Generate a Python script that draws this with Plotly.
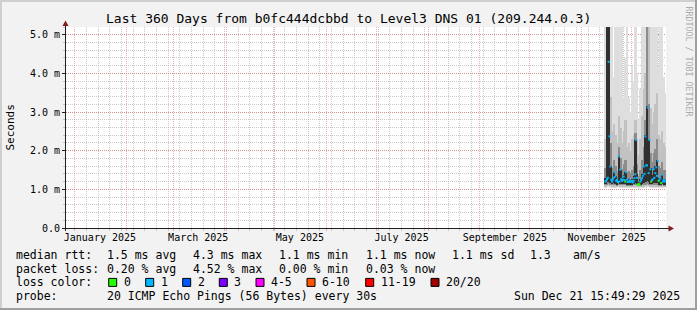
import plotly.graph_objects as go
import pandas as pd

# ---------------- data ----------------
title_text = "Last 360 Days from b0fc444dcbbd to Level3 DNS 01 (209.244.0.3)"
range_start = "2024-12-26 15:49:29"
range_end = "2025-12-21 15:49:29"

# daily smoke columns (ms), Nov 15 .. Dec 21 2025
smoke_days = pd.date_range("2025-11-15", periods=37, freq="D")
ping_min = [1.04,1.05,1.05,1.04,1.04,1.04,1.04,1.03,1.05,1.04,1.04,1.04,1.04,1.03,1.03,1.03,1.03,1.04,1.04,1.04,1.02,1.03,1.04,1.04,1.05,1.05,1.05,1.04,1.04,1.04,1.04,1.04,1.03,1.03,1.03,1.03,1.03]
ping_p15 = [1.07,1.08,1.09,1.08,1.07,1.07,1.07,1.06,1.08,1.07,1.07,1.07,1.07,1.06,1.06,1.06,1.06,1.07,1.07,1.07,1.05,1.06,1.07,1.07,1.08,1.09,1.08,1.07,1.07,1.07,1.07,1.07,1.06,1.06,1.06,1.06,1.06]
ping_p30 = [1.10,1.12,1.14,1.12,1.10,1.11,1.10,1.09,1.12,1.11,1.10,1.10,1.10,1.09,1.09,1.09,1.09,1.10,1.11,1.10,1.08,1.09,1.10,1.11,1.12,1.14,1.12,1.10,1.10,1.11,1.11,1.11,1.09,1.09,1.10,1.09,1.09]
ping_p40 = [1.14,1.18,1.20,1.16,1.13,1.16,1.14,1.12,1.18,1.15,1.14,1.14,1.14,1.12,1.12,1.12,1.12,1.14,1.16,1.14,1.10,1.12,1.15,1.16,1.18,1.22,1.18,1.15,1.14,1.16,1.16,1.17,1.12,1.12,1.13,1.12,1.12]
ping_p60 = [1.30,5.50,5.50,1.60,1.28,1.45,1.34,1.26,1.85,1.50,1.30,1.36,1.45,1.26,1.28,1.24,1.26,1.34,2.28,1.40,1.20,1.28,1.40,1.60,2.40,3.15,2.28,1.55,1.36,1.55,1.60,1.75,1.30,1.30,1.40,1.28,1.28]
ping_p70 = [1.55,5.50,5.50,2.20,1.55,1.75,1.60,1.48,2.10,1.80,1.52,1.65,1.75,1.45,1.48,1.42,1.50,1.60,2.45,1.65,1.35,1.50,1.75,2.10,2.80,5.50,3.20,1.95,1.70,1.95,2.05,2.30,1.60,1.55,1.70,1.50,1.50]
ping_p85 = [2.30,5.50,5.50,3.40,2.50,2.70,2.40,2.20,2.90,2.60,2.20,2.50,2.80,2.10,2.20,2.00,2.30,2.40,2.80,2.30,1.90,2.30,2.90,3.60,4.00,5.50,5.50,3.10,2.70,3.00,3.20,3.50,2.40,2.30,2.50,2.20,2.10]
ping_max = [5.50,5.50,5.50,5.50,5.50,3.90,5.50,5.50,5.50,5.50,5.50,3.30,4.40,5.50,3.40,3.00,4.20,3.80,5.50,4.00,2.80,3.60,5.50,5.50,5.50,5.50,5.50,5.50,5.50,5.50,5.50,5.50,4.20,5.50,5.50,3.90,3.50]

# median rtt every 12 hours (ms) and loss class index
median_times = pd.date_range("2025-11-15 06:00", periods=74, freq="12h")
median_rtt = [1.20,1.22,1.26,1.30,4.30,2.37,1.59,1.25,1.20,1.25,1.30,1.44,1.33,1.22,1.24,1.19,
              1.85,1.20,1.51,1.26,1.22,1.25,1.33,1.24,1.20,1.44,1.25,1.19,1.20,1.23,1.19,1.21,
              1.22,1.18,1.22,1.29,1.39,2.28,1.30,1.12,1.14,1.12,1.20,1.24,1.29,1.35,1.59,1.40,
              2.37,1.62,1.62,3.12,1.42,2.28,1.52,1.20,1.24,1.26,1.52,1.30,1.42,1.57,1.35,1.74,
              1.22,1.25,1.30,1.16,1.38,1.20,1.24,1.20,1.22,1.25]
median_loss = [1,1,1,1,1,1,1,1,1,1,1,1,1,1,1,1,
               1,1,1,1,1,1,1,1,0,1,1,1,1,1,1,1,
               1,1,1,1,1,1,1,0,0,0,1,1,1,1,1,1,
               1,1,1,1,1,1,1,0,1,1,1,1,1,1,1,1,
               0,1,1,0,1,1,1,1,1,1]

loss_labels = ["0", "1", "2", "3", "4-5", "6-10", "11-19", "20/20"]
loss_colors = ["#26ff00", "#00b8ff", "#0059ff", "#7e00ff", "#ff00ff", "#ff5500", "#ff0000", "#a10000"]

month_label_dates = ["2025-01-16", "2025-03-16", "2025-05-16", "2025-07-16", "2025-09-16", "2025-11-16"]
month_labels = ["January 2025", "March 2025", "May 2025", "July 2025", "September 2025", "November 2025"]

y_tick_vals = [0, 1, 2, 3, 4, 5]
y_tick_text = ["0.0", "1.0 m", "2.0 m", "3.0 m", "4.0 m", "5.0 m"]

legend_rtt = ["1.5 ms avg", "4.3 ms max", "1.1 ms min", "1.1 ms now", "1.1 ms sd", "1.3", "am/s"]
legend_loss = ["0.20 % avg", "4.52 % max", "0.00 % min", "0.03 % now"]
probe_text = "20 ICMP Echo Pings (56 Bytes) every 30s"
stamp_text = "Sun Dec 21 15:49:29 2025"

# ---------------- layout geometry (pixels) ----------------
W, H = 697, 310
L, R, T, B = 66, 666, 27, 228
MONO = "DejaVu Sans Mono"


def px(x):
    return (x - L) / (R - L)


def py(y):
    return (B - y) / (B - T)


fig = go.Figure()

DAY_MS = 86400000
bands = [(ping_min, ping_max, "#dedede"),
         (ping_p15, ping_p85, "#c2c2c2"),
         (ping_p30, ping_p70, "#8c8c8c"),
         (ping_p40, ping_p60, "#303030")]
for lo, hi, col in bands:
    fig.add_trace(go.Bar(
        x=smoke_days, y=[h - l for l, h in zip(lo, hi)], base=lo,
        width=DAY_MS, offset=0, marker=dict(color=col, line=dict(width=0)),
        hoverinfo="skip", showlegend=False))

fig.add_trace(go.Scatter(
    x=median_times, y=median_rtt, mode="markers", xaxis="x2",
    marker=dict(symbol="square", size=2, color=[loss_colors[i] for i in median_loss],
                line=dict(width=0)),
    hoverinfo="skip", showlegend=False))

grid_dash = "1px,1px"
minor_grid = "rgba(150,150,150,0.5)"
major_grid = "rgba(222,79,79,0.45)"

fig.update_layout(
    width=W, height=H, autosize=False,
    margin=dict(l=L, r=W - R, t=T, b=H - B, pad=0),
    paper_bgcolor="#f2f2f2", plot_bgcolor="#ffffff",
    barmode="overlay", bargap=0,
    font=dict(family=MONO, size=10, color="#000000"),
    xaxis=dict(type="date", range=[range_start, range_end], showticklabels=False,
               tickmode="linear", tick0="2025-01-01", dtick="M1",
               showgrid=True, gridcolor=major_grid, griddash=grid_dash, gridwidth=1,
               ticks="outside", ticklen=2, tickcolor=major_grid,
               minor=dict(tickmode="linear", tick0="2025-01-08", dtick=7 * DAY_MS, showgrid=True,
                          gridcolor=minor_grid, griddash=grid_dash, gridwidth=1,
                          ticks="outside", ticklen=2, tickcolor=minor_grid),
               showline=False, zeroline=False, fixedrange=True),
    xaxis2=dict(type="date", range=[range_start, range_end], overlaying="x", side="bottom",
                anchor="y", tickmode="array", tickvals=month_label_dates, ticktext=month_labels,
                ticks="", showgrid=False, showline=False, zeroline=False,
                tickfont=dict(family=MONO, size=10, color="#000000"), ticklabelstandoff=2),
    yaxis=dict(range=[0, 5.2], tickmode="array", tickvals=y_tick_vals, ticktext=y_tick_text,
               showgrid=True, gridcolor=major_grid, griddash=grid_dash, gridwidth=1,
               ticks="outside", ticklen=3, tickcolor="#1f1f1f",
               minor=dict(tickmode="linear", tick0=0, dtick=0.2, showgrid=True, gridcolor=minor_grid,
                          griddash=grid_dash, gridwidth=1, ticks="outside", ticklen=2,
                          tickcolor=minor_grid),
               tickfont=dict(family=MONO, size=10, color="#000000"),
               showline=False, zeroline=False, fixedrange=True),
)

shapes = []
# frame shading
shapes.append(dict(type="line", xref="paper", yref="paper", x0=px(0), x1=px(W), y0=py(1), y1=py(1),
                   line=dict(color="#cfcfcf", width=2)))
shapes.append(dict(type="line", xref="paper", yref="paper", x0=px(1), x1=px(1), y0=py(0), y1=py(H),
                   line=dict(color="#cfcfcf", width=2)))
shapes.append(dict(type="line", xref="paper", yref="paper", x0=px(0), x1=px(W), y0=py(H - 1), y1=py(H - 1),
                   line=dict(color="#9e9e9e", width=2)))
shapes.append(dict(type="line", xref="paper", yref="paper", x0=px(W - 1), x1=px(W - 1), y0=py(0), y1=py(H),
                   line=dict(color="#9e9e9e", width=2)))
# axes
shapes.append(dict(type="line", xref="paper", yref="paper", x0=px(65.5), x1=px(65.5), y0=py(231), y1=py(24),
                   line=dict(color="#1f1f1f", width=1), layer="above"))
shapes.append(dict(type="line", xref="paper", yref="paper", x0=px(62), x1=px(669), y0=py(228.5), y1=py(228.5),
                   line=dict(color="#1f1f1f", width=1), layer="above"))
# arrows
shapes.append(dict(type="path", xref="paper", yref="paper",
                   path="M {} {} L {} {} L {} {} Z".format(px(65.5), py(20.5), px(62.5), py(26), px(68.5), py(26)),
                   fillcolor="#801f1f", line=dict(width=0), layer="above"))
shapes.append(dict(type="path", xref="paper", yref="paper",
                   path="M {} {} L {} {} L {} {} Z".format(px(674), py(228.5), px(668.5), py(225.5), px(668.5), py(231.5)),
                   fillcolor="#801f1f", line=dict(width=0), layer="above"))

annotations = []


def txt(x, y, s, size=11.5, anchor="left", color="#000000", angle=0):
    annotations.append(dict(xref="paper", yref="paper", x=px(x), y=py(y), text=s, showarrow=False,
                            xanchor=anchor, yanchor="middle", textangle=angle,
                            borderpad=0, borderwidth=0,
                            font=dict(family=MONO, size=size, color=color)))


txt(348, 18.5, title_text, size=13, anchor="center")
txt(10, 127.5, "Seconds", size=11, anchor="center", angle=-90)
txt(688.5, 61, "RRDTOOL / TOBI OETIKER", size=8.3, anchor="center", color="#ababab", angle=90)

rows_y = [254.8, 268.6, 282.4, 296.2]
cols_x = [107.3, 193.3, 279.3, 365.7, 451.7, 530.3, 572.7]
txt(16, rows_y[0], "median rtt:")
for xx, s in zip(cols_x, legend_rtt):
    txt(xx, rows_y[0], s)
txt(16, rows_y[1], "packet loss:")
for xx, s in zip(cols_x, legend_loss):
    txt(xx, rows_y[1], s)
txt(16, rows_y[2], "loss color:")
box_x = [108.7, 145.7, 182.7, 219.3, 256, 307, 365.7, 431]
for bx, lab, col in zip(box_x, loss_labels, loss_colors):
    shapes.append(dict(type="rect", xref="paper", yref="paper",
                       x0=px(bx), x1=px(bx + 8), y0=py(rows_y[2] - 4), y1=py(rows_y[2] + 4),
                       fillcolor=col, line=dict(color="#000000", width=1)))
    txt(bx + 14.8, rows_y[2], lab)
txt(16, rows_y[3], "probe:")
txt(107.3, rows_y[3], probe_text)
txt(680, rows_y[3], stamp_text, anchor="right")

fig.update_layout(shapes=shapes, annotations=annotations)
fig.write_html("out.html")
